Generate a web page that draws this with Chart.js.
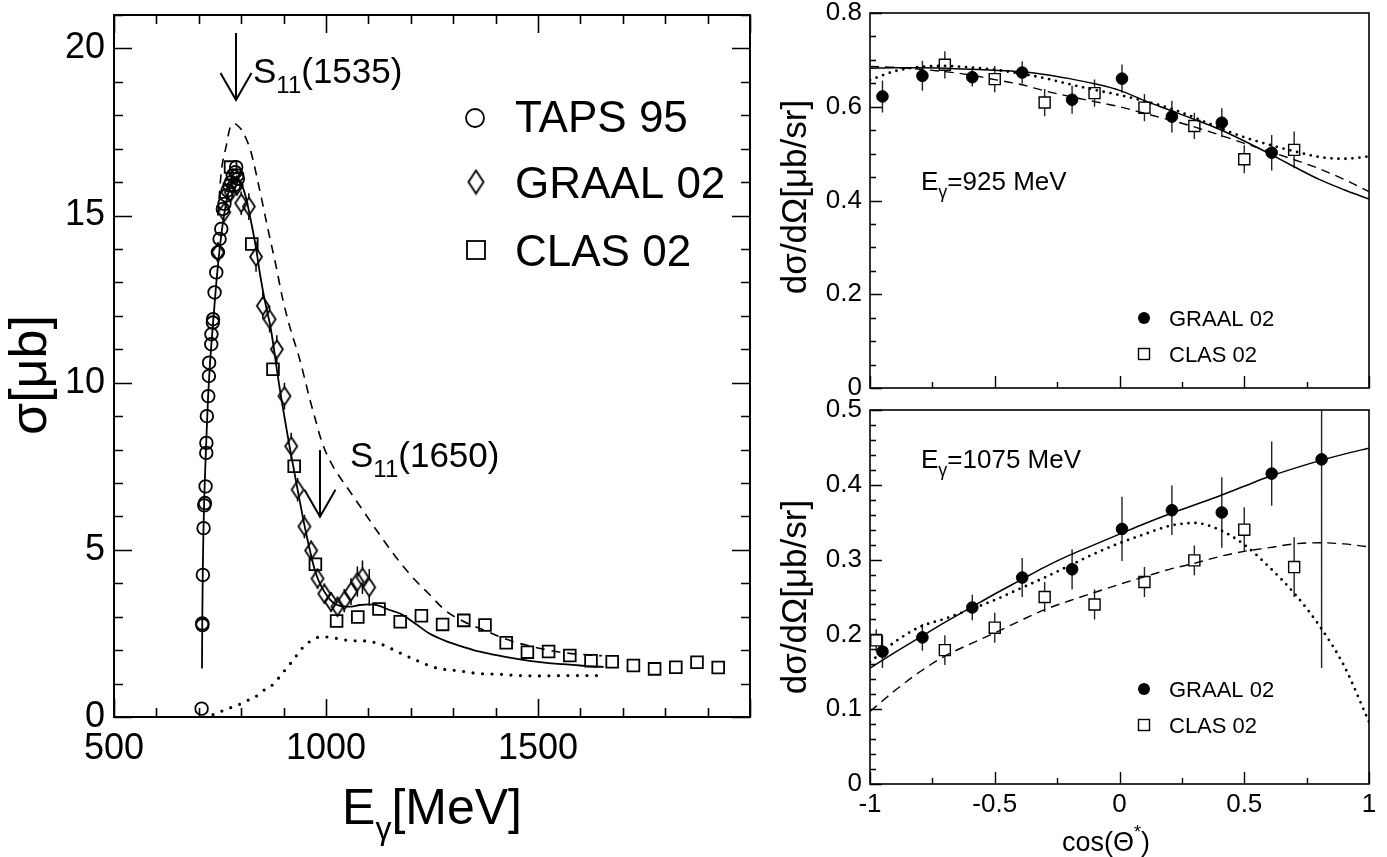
<!DOCTYPE html>
<html>
<head>
<meta charset="utf-8">
<title>eta photoproduction</title>
<script src="https://cdn.jsdelivr.net/npm/chart.js@4.4.1/dist/chart.umd.min.js"></script>
<style>
html,body{margin:0;padding:0;background:#fff;}
#wrap{position:relative;width:1387px;height:857px;background:#fff;overflow:hidden;}
canvas{position:absolute;}
</style>
</head>
<body>
<div id="wrap">
<canvas id="cL" width="770" height="857" style="left:0;top:0;width:770px;height:857px"></canvas>
<canvas id="cT" width="627" height="400" style="left:760px;top:0;width:627px;height:400px"></canvas>
<canvas id="cB" width="627" height="462" style="left:760px;top:395px;width:627px;height:462px"></canvas>
</div>
<script>
// ================= DATA =================
// Left panel: total cross section sigma [mub] vs E_gamma [MeV]
const tapsE = [706.6, 708.2, 708.6, 709.6, 711.3, 713.0, 714.4, 716.0, 717.6, 717.9, 719.0, 722.4, 723.8, 724.3, 729.4, 729.8, 733.2, 733.6, 737.2, 741.2, 745.0, 749.0, 753.0, 756.7, 760.5, 764.7, 768.0, 772.5, 776.0, 780.2, 783.0, 786.0, 788.2, 790.5, 792.0];
const tapsSigma = [0.25, 2.8, 2.75, 4.25, 5.65, 6.33, 6.4, 6.9, 7.9, 8.2, 9.0, 9.6, 10.2, 10.6, 11.15, 11.45, 11.8, 11.9, 12.7, 13.3, 13.9, 14.3, 14.6, 15.2, 15.35, 15.6, 15.75, 15.9, 16.0, 16.2, 15.9, 16.3, 16.45, 16.2, 16.1];

const graalE = [745, 760, 775, 790, 800, 818, 835, 851, 867, 884, 902, 918, 933, 949, 965, 980, 996, 1012, 1027, 1043, 1059, 1074, 1086, 1102];
const graalSigma = [13.9, 15.1, 15.7, 15.9, 15.37, 15.27, 13.77, 12.3, 11.9, 11.0, 9.6, 8.1, 6.8, 5.7, 4.98, 4.14, 3.69, 3.44, 3.3, 3.48, 3.75, 4.05, 4.18, 3.88];
const graalSigmaErr = [0.3, 0.3, 0.3, 0.3, 0.35, 0.4, 0.45, 0.4, 0.4, 0.42, 0.4, 0.4, 0.35, 0.35, 0.3, 0.3, 0.3, 0.3, 0.3, 0.35, 0.4, 0.45, 0.5, 0.55];

const clasE = [775, 825, 875, 925, 975, 1025, 1075, 1125, 1175, 1225, 1275, 1325, 1375, 1425, 1475, 1525, 1575, 1625, 1675, 1725, 1775, 1825, 1875, 1925];
const clasSigma = [16.45, 14.15, 10.4, 7.5, 4.57, 2.87, 2.99, 3.23, 2.85, 3.03, 2.77, 2.89, 2.75, 2.22, 1.94, 1.96, 1.84, 1.68, 1.65, 1.54, 1.44, 1.49, 1.64, 1.48];

const fitE = [707.5, 708.2, 709.3, 711, 713, 716, 719, 722, 726, 730, 735, 740, 745, 750, 757, 765, 773, 781, 789, 797, 805, 812, 822, 834, 845, 855, 870, 890, 914, 933, 953, 976, 1004, 1031, 1055, 1080, 1100, 1120, 1150, 1177, 1210, 1245, 1283, 1323, 1360, 1402, 1440, 1480, 1520, 1559, 1600, 1630, 1655];
const fitSigma = [1.45, 2.8, 4.3, 5.6, 6.6, 7.7, 8.7, 9.6, 10.5, 11.2, 12.0, 12.8, 13.5, 14.1, 14.8, 15.4, 15.85, 16.1, 16.15, 16.0, 15.8, 15.5, 14.9, 14.1, 13.2, 12.5, 11.6, 9.9, 8.1, 6.8, 5.5, 4.3, 3.6, 3.33, 3.3, 3.35, 3.37, 3.35, 3.2, 3.08, 2.8, 2.49, 2.27, 2.1, 1.96, 1.85, 1.76, 1.68, 1.62, 1.58, 1.54, 1.51, 1.5];

const dashE = [745, 753, 765, 773, 784, 795, 804, 823, 843, 863, 882, 898, 914, 938, 962, 975, 986, 997, 1008, 1020, 1034, 1048, 1067, 1087, 1125, 1165, 1204, 1243, 1282, 1321, 1376, 1424, 1478, 1557, 1651];
const dashSigma = [15.0, 16.3, 17.1, 17.6, 17.75, 17.65, 17.5, 16.9, 15.8, 14.6, 13.5, 12.5, 11.7, 10.7, 9.5, 8.9, 8.4, 8.0, 7.7, 7.42, 7.15, 6.9, 6.55, 6.18, 5.48, 4.78, 4.18, 3.68, 3.18, 2.88, 2.58, 2.33, 2.13, 1.93, 1.83];

const dotE = [712, 741, 765, 788, 812, 831, 851, 871, 886, 902, 918, 933, 949, 965, 988, 1012, 1035, 1059, 1082, 1129, 1172, 1216, 1263, 1314, 1361, 1408, 1455, 1502, 1573, 1647];
const dotSigma = [0.0, 0.1, 0.24, 0.33, 0.48, 0.58, 0.78, 0.93, 1.13, 1.38, 1.63, 1.88, 2.13, 2.28, 2.4, 2.38, 2.33, 2.28, 2.28, 2.18, 1.93, 1.68, 1.46, 1.38, 1.3, 1.28, 1.24, 1.23, 1.24, 1.24];

const leftXTickLabels = [500, 1000, 1500];
const leftYTickLabels = [0, 5, 10, 15, 20];

// Right panels: dsigma/dOmega [mub/sr] vs cos(theta*)
const curveCos = [-1, -0.9, -0.8, -0.7, -0.6, -0.5, -0.4, -0.3, -0.2, -0.1, 0, 0.1, 0.2, 0.3, 0.4, 0.5, 0.6, 0.7, 0.8, 0.9, 1];

// E_gamma = 925 MeV
const graal925Cos = [-0.95, -0.79, -0.59, -0.39, -0.19, 0.01, 0.21, 0.41, 0.61];
const graal925 = [0.622, 0.666, 0.663, 0.673, 0.615, 0.660, 0.579, 0.566, 0.502];
const graal925Err = [0.034, 0.032, 0.02, 0.024, 0.030, 0.030, 0.034, 0.031, 0.038];
const clas925Cos = [-0.7, -0.5, -0.3, -0.1, 0.1, 0.3, 0.5, 0.7];
const clas925 = [0.6895, 0.659, 0.609, 0.629, 0.598, 0.559, 0.488, 0.508];
const clas925Err = [0.029, 0.028, 0.029, 0.029, 0.029, 0.028, 0.030, 0.039];
const solid925 = [0.682, 0.683, 0.683, 0.682, 0.680, 0.678, 0.675, 0.669, 0.660, 0.649, 0.635, 0.613, 0.593, 0.573, 0.552, 0.527, 0.500, 0.472, 0.445, 0.423, 0.403];
const dash925 = [0.686, 0.684, 0.680, 0.675, 0.668, 0.658, 0.648, 0.634, 0.622, 0.611, 0.600, 0.586, 0.572, 0.557, 0.540, 0.522, 0.505, 0.487, 0.468, 0.445, 0.419];
const dot925 = [0.657, 0.676, 0.685, 0.687, 0.684, 0.679, 0.671, 0.661, 0.648, 0.636, 0.625, 0.612, 0.597, 0.577, 0.555, 0.535, 0.519, 0.505, 0.493, 0.489, 0.494];

// E_gamma = 1075 MeV
const graal1075Cos = [-0.95, -0.79, -0.59, -0.39, -0.19, 0.01, 0.21, 0.41, 0.61, 0.81];
const graal1075 = [0.177, 0.196, 0.236, 0.276, 0.287, 0.341, 0.366, 0.363, 0.415, 0.434];
const graal1075Err = [0.022, 0.018, 0.017, 0.026, 0.027, 0.043, 0.033, 0.047, 0.043, 0.279];
const clas1075Cos = [-0.975, -0.7, -0.5, -0.3, -0.1, 0.1, 0.3, 0.5, 0.7];
const clas1075 = [0.192, 0.179, 0.209, 0.250, 0.240, 0.270, 0.299, 0.340, 0.290];
const clas1075Err = [0.015, 0.02, 0.02, 0.02, 0.02, 0.02, 0.02, 0.03, 0.04];
const solid1075 = [0.155, 0.176, 0.196, 0.216, 0.235, 0.254, 0.272, 0.290, 0.306, 0.320, 0.334, 0.348, 0.361, 0.373, 0.385, 0.398, 0.411, 0.422, 0.432, 0.441, 0.449];
const dash1075 = [0.097, 0.125, 0.150, 0.171, 0.187, 0.202, 0.218, 0.233, 0.245, 0.256, 0.267, 0.277, 0.287, 0.295, 0.304, 0.311, 0.316, 0.321, 0.3225, 0.321, 0.317];
const dot1075 = [0.163, 0.190, 0.210, 0.221, 0.233, 0.246, 0.261, 0.276, 0.292, 0.308, 0.322, 0.334, 0.345, 0.349, 0.340, 0.320, 0.290, 0.255, 0.212, 0.158, 0.083];

const cosTickLabels = [-1, -0.5, 0, 0.5, 1];
const top925YTickLabels = [0, 0.2, 0.4, 0.6, 0.8];
const bot1075YTickLabels = [0, 0.1, 0.2, 0.3, 0.4, 0.5];

// ================= HELPERS =================
const FONT = '"Liberation Sans", Arial, Helvetica, sans-serif';
const pts = (xs, ys) => xs.map((x, i) => ({x: x, y: ys[i]}));
function steps(min, max, step) {
  const out = []; const n = Math.round((max - min) / step);
  for (let i = 0; i <= n; i++) out.push(+(min + i * step).toFixed(6));
  return out;
}
function makeDiamond(w, h, lw) {
  const c = document.createElement('canvas');
  c.width = Math.ceil(w + 2 * lw); c.height = Math.ceil(h + 2 * lw);
  const g = c.getContext('2d');
  g.strokeStyle = '#000'; g.lineWidth = lw; g.lineJoin = 'miter';
  const cx = c.width / 2, cy = c.height / 2;
  g.beginPath(); g.moveTo(cx, cy - h / 2); g.lineTo(cx + w / 2, cy); g.lineTo(cx, cy + h / 2); g.lineTo(cx - w / 2, cy); g.closePath(); g.stroke();
  return c;
}
function rich(ctx, x, y, parts) {
  let cx = x;
  ctx.textBaseline = 'alphabetic'; ctx.textAlign = 'left'; ctx.fillStyle = '#000';
  for (const p of parts) {
    ctx.font = p.size + 'px ' + FONT;
    ctx.fillText(p.t, cx, y + (p.dy || 0));
    cx += ctx.measureText(p.t).width;
  }
  return cx - x;
}
function richWidth(ctx, parts) {
  let w = 0;
  for (const p of parts) { ctx.font = p.size + 'px ' + FONT; w += ctx.measureText(p.t).width; }
  return w;
}
function rotatedCentered(ctx, cx, cy, text, size) {
  ctx.save();
  ctx.translate(cx, cy); ctx.rotate(-Math.PI / 2);
  ctx.font = size + 'px ' + FONT; ctx.fillStyle = '#000';
  ctx.textAlign = 'center'; ctx.textBaseline = 'middle';
  ctx.fillText(text, 0, 0);
  ctx.restore();
}
function drawFrameTicks(chart, t) {
  const ctx = chart.ctx, a = chart.chartArea, xs = chart.scales.x, ys = chart.scales.y;
  ctx.save();
  ctx.strokeStyle = '#000'; ctx.lineWidth = t.tickWidth; ctx.lineCap = 'butt';
  ctx.beginPath();
  const doX = (vals, len) => { for (const v of vals) { const px = Math.round(xs.getPixelForValue(v)) + 0.5;
      ctx.moveTo(px, a.bottom); ctx.lineTo(px, a.bottom - len);
      if (t.mirror) { ctx.moveTo(px, a.top); ctx.lineTo(px, a.top + len); } } };
  const doY = (vals, len) => { for (const v of vals) { const py = Math.round(ys.getPixelForValue(v)) + 0.5;
      ctx.moveTo(a.left, py); ctx.lineTo(a.left + len, py);
      if (t.mirror) { ctx.moveTo(a.right, py); ctx.lineTo(a.right - len, py); } } };
  doX(t.xMinor, t.minorLen); doX(t.xMajor, t.majorLen);
  doY(t.yMinor, t.minorLen); doY(t.yMajor, t.majorLen);
  ctx.stroke();
  ctx.lineWidth = t.frameWidth;
  ctx.strokeRect(a.left, a.top, a.right - a.left, a.bottom - a.top);
  ctx.restore();
}
function drawErrors(chart, list) {
  const ctx = chart.ctx, a = chart.chartArea, xs = chart.scales.x, ys = chart.scales.y;
  ctx.save();
  ctx.beginPath(); ctx.rect(a.left, a.top, a.right - a.left, a.bottom - a.top); ctx.clip();
  for (const e of list) {
    ctx.strokeStyle = e.color || '#000'; ctx.lineWidth = e.width || 1.5;
    ctx.beginPath();
    e.x.forEach((xv, i) => {
      const px = xs.getPixelForValue(xv), py = ys.getPixelForValue(e.y[i]);
      const up = ys.getPixelForValue(e.y[i] + e.err[i]), dn = ys.getPixelForValue(e.y[i] - e.err[i]);
      if (py - e.gap > up) { ctx.moveTo(px, up); ctx.lineTo(px, py - e.gap); }
      if (py + e.gap < dn) { ctx.moveTo(px, py + e.gap); ctx.lineTo(px, dn); }
    });
    ctx.stroke();
  }
  ctx.restore();
}
function scaleOpts(o) {
  return {
    type: 'linear', min: o.min, max: o.max,
    grid: {display: false, drawTicks: false}, border: {display: false},
    ticks: {display: o.showLabels !== false, color: '#000', font: {family: FONT, size: o.fontSize}, padding: o.pad,
            autoSkip: false, maxRotation: 0, minRotation: 0, callback: v => String(v)},
    afterBuildTicks: s => { s.ticks = o.labels.map(v => ({value: v})); },
    afterFit: s => {
      if (o.width !== undefined) s.width = o.width;
      if (o.height !== undefined) s.height = o.height;
      s.paddingLeft = 0; s.paddingRight = 0; s.paddingTop = 0; s.paddingBottom = 0;
    }
  };
}
function baseOptions(padding, xOpts, yOpts) {
  return {
    responsive: false, maintainAspectRatio: false, animation: false, devicePixelRatio: 1, events: [],
    layout: {padding: padding},
    plugins: {legend: {display: false}, tooltip: {enabled: false}, title: {display: false}},
    scales: {x: scaleOpts(xOpts), y: scaleOpts(yOpts)}
  };
}
const lineDS = (data, width, dash, extra) => Object.assign({
  type: 'scatter', data: data, showLine: true, pointRadius: 0, borderColor: '#000', borderWidth: width,
  borderDash: dash, backgroundColor: 'rgba(0,0,0,0)', cubicInterpolationMode: 'monotone', fill: false
}, extra || {});

// ================= LEFT CHART =================
const diamondData = makeDiamond(12, 18, 1.8);
const diamondLegend = makeDiamond(15, 23, 1.9);

new Chart(document.getElementById('cL'), {
  type: 'scatter',
  data: {datasets: [
    {label: 'TAPS 95', data: pts(tapsE, tapsSigma), pointStyle: 'circle', pointRadius: 6.3,
     borderColor: '#000', borderWidth: 1.8, backgroundColor: 'rgba(0,0,0,0)'},
    {label: 'GRAAL 02', data: pts(graalE, graalSigma), pointStyle: diamondData, pointRadius: 7,
     borderColor: '#000', backgroundColor: 'rgba(0,0,0,0)'},
    {label: 'CLAS 02', data: pts(clasE, clasSigma), pointStyle: 'rect', pointRadius: 8.3,
     borderColor: '#000', borderWidth: 1.8, backgroundColor: 'rgba(0,0,0,0)'},
    lineDS(pts(fitE, fitSigma), 1.8, []),
    lineDS(pts(dashE, dashSigma), 1.6, [9, 7]),
    lineDS(pts(dotE, dotSigma), 3.2, [0, 9.5], {borderCapStyle: 'round'})
  ]},
  options: baseOptions({left: 0, top: 15, right: 20, bottom: 0},
    {min: 500, max: 2000, labels: leftXTickLabels, fontSize: 36, pad: 10, height: 140},
    {min: 0, max: 21, labels: leftYTickLabels, fontSize: 36, pad: 9, width: 114}),
  plugins: [{
    id: 'leftDeco',
    beforeDatasetsDraw(chart) {
      drawErrors(chart, [{x: graalE, y: graalSigma, err: graalSigmaErr, gap: 9, width: 1.5}]);
    },
    afterDatasetsDraw(chart) {
      drawFrameTicks(chart, {xMajor: [500, 1000, 1500, 2000], xMinor: steps(500, 2000, 100),
        yMajor: [0, 5, 10, 15, 20], yMinor: steps(0, 21, 1), majorLen: 18, minorLen: 9,
        tickWidth: 1.6, frameWidth: 2, mirror: true});
    },
    afterDraw(chart) {
      const ctx = chart.ctx, xs = chart.scales.x, ys = chart.scales.y;
      // arrows marking resonances
      ctx.save(); ctx.strokeStyle = '#000'; ctx.lineWidth = 2;
      const arrow = (E, s1, s2) => {
        const x = xs.getPixelForValue(E), yt = ys.getPixelForValue(s1), yb = ys.getPixelForValue(s2);
        ctx.beginPath(); ctx.moveTo(x, yt); ctx.lineTo(x, yb);
        ctx.moveTo(x - 15.5, yb - 27); ctx.lineTo(x, yb); ctx.lineTo(x + 15.5, yb - 27); ctx.stroke();
      };
      arrow(787.7, 20.46, 18.46);
      arrow(985.8, 7.99, 5.99);
      ctx.restore();
      rich(ctx, xs.getPixelForValue(827.8), ys.getPixelForValue(18.97),
        [{t: 'S', size: 35}, {t: '11', size: 24, dy: 10}, {t: '(1535)', size: 35}]);
      rich(ctx, xs.getPixelForValue(1056.6), ys.getPixelForValue(7.49),
        [{t: 'S', size: 35}, {t: '11', size: 24, dy: 10}, {t: '(1650)', size: 35}]);
      // legend
      ctx.save(); ctx.strokeStyle = '#000'; ctx.lineWidth = 1.8;
      ctx.beginPath(); ctx.arc(475, 118, 9, 0, Math.PI * 2); ctx.stroke();
      ctx.drawImage(diamondLegend, 476 - diamondLegend.width / 2, 182 - diamondLegend.height / 2);
      ctx.strokeRect(467, 241, 18, 18);
      ctx.restore();
      rich(ctx, 515, 132, [{t: 'TAPS 95', size: 44}]);
      rich(ctx, 515, 198, [{t: 'GRAAL 02', size: 44}]);
      rich(ctx, 515, 266, [{t: 'CLAS 02', size: 44}]);
      // axis titles
      rotatedCentered(ctx, 32, 375, 'σ[μb]', 52);
      const xt = [{t: 'E', size: 50}, {t: 'γ', size: 32, dy: 15}, {t: '[MeV]', size: 50}];
      rich(ctx, 432 - richWidth(ctx, xt) / 2, 824, xt);
    }
  }]
});

// ================= RIGHT CHARTS =================
function rightChart(id, o) {
  new Chart(document.getElementById(id), {
    type: 'scatter',
    data: {datasets: [
      {label: 'GRAAL 02', data: pts(o.gCos, o.g), pointStyle: 'circle', pointRadius: 5.8,
       borderColor: '#000', borderWidth: 1, backgroundColor: '#000'},
      {label: 'CLAS 02', data: pts(o.cCos, o.c), pointStyle: 'rect', pointRadius: 7.8,
       borderColor: '#000', borderWidth: 1.4, backgroundColor: 'rgba(0,0,0,0)', clip: 0},
      lineDS(pts(curveCos, o.solid), 1.5, []),
      lineDS(pts(curveCos, o.dash), 1.4, [9, 6]),
      lineDS(pts(curveCos, o.dot), 2.8, [0, 7], {borderCapStyle: 'round'})
    ]},
    options: baseOptions({left: 0, top: o.top, right: 18, bottom: 0},
      {min: -1, max: 1, labels: cosTickLabels, fontSize: 26, pad: 5, height: o.xHeight, showLabels: o.showX},
      {min: 0, max: o.ymax, labels: o.yLabels, fontSize: 26, pad: 8, width: 110}),
    plugins: [{
      id: id + 'Deco',
      beforeDatasetsDraw(chart) {
        drawErrors(chart, [
          {x: o.gCos, y: o.g, err: o.gErr, gap: 0, width: 1.4, color: '#222'},
          {x: o.cCos, y: o.c, err: o.cErr, gap: 5.6, width: 1.4, color: '#222'}
        ]);
      },
      afterDatasetsDraw(chart) {
        drawFrameTicks(chart, {xMajor: [-1, -0.5, 0, 0.5, 1], xMinor: steps(-1, 1, 0.25),
          yMajor: o.yLabels, yMinor: steps(0, o.ymax, o.yMinorStep), majorLen: 12, minorLen: 6,
          tickWidth: 1.4, frameWidth: 1.6, mirror: false});
      },
      afterDraw(chart) {
        const ctx = chart.ctx;
        rotatedCentered(ctx, 36, o.titleY, 'dσ/dΩ[μb/sr]', 35);
        rich(ctx, 161, o.eBase, [{t: 'E', size: 26}, {t: 'γ', size: 18, dy: 8}, {t: o.eText, size: 26}]);
        ctx.save();
        ctx.fillStyle = '#000'; ctx.beginPath(); ctx.arc(384, o.legY, 6, 0, Math.PI * 2); ctx.fill();
        ctx.strokeStyle = '#000'; ctx.lineWidth = 1.4; ctx.strokeRect(378.5, o.legY + 36 - 5.5, 11, 11);
        ctx.restore();
        rich(ctx, 409, o.legY + 8, [{t: 'GRAAL 02', size: 22}]);
        rich(ctx, 409, o.legY + 44, [{t: 'CLAS 02', size: 22}]);
        if (o.showX) {
          rich(ctx, 302, 456, [{t: 'cos(Θ', size: 27}, {t: '*', size: 18, dy: -13}, {t: ')', size: 27}]);
        }
      }
    }]
  });
}

rightChart('cT', {gCos: graal925Cos, g: graal925, gErr: graal925Err, cCos: clas925Cos, c: clas925, cErr: clas925Err,
  solid: solid925, dash: dash925, dot: dot925, ymax: 0.8, yLabels: top925YTickLabels, yMinorStep: 0.05,
  top: 13, xHeight: 12, showX: false, titleY: 197, eBase: 190, eText: '=925 MeV', legY: 318});
rightChart('cB', {gCos: graal1075Cos, g: graal1075, gErr: graal1075Err, cCos: clas1075Cos, c: clas1075, cErr: clas1075Err,
  solid: solid1075, dash: dash1075, dot: dot1075, ymax: 0.5, yLabels: bot1075YTickLabels, yMinorStep: 0.02,
  top: 15, xHeight: 73, showX: true, titleY: 202, eBase: 73, eText: '=1075 MeV', legY: 294});
</script>
</body>
</html>
